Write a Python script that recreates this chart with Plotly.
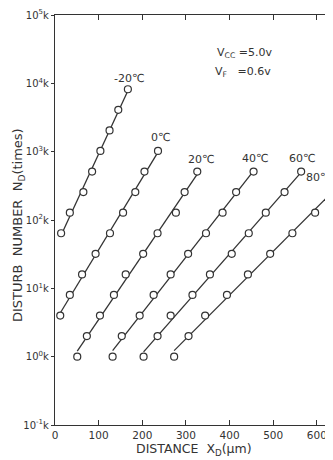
import numpy as np
import plotly.graph_objects as go

# ---- data ----
temps = ["-20℃", "0℃", "20℃", "40℃", "60℃", "80℃"]

x_m20 = [14, 34, 65, 85, 104, 125, 145, 167]
y_m20 = [64, 128, 256, 512, 1024, 2048, 4096, 8192]

x_0 = [12, 34, 62, 93, 126, 156, 184, 205, 236]
y_0 = [4, 8, 16, 32, 64, 128, 256, 512, 1024]

x_20 = [51, 73, 103, 135, 162, 202, 235, 277, 297, 326]
y_20 = [1, 2, 4, 8, 16, 32, 64, 128, 256, 512]

x_40 = [132, 153, 194, 226, 265, 305, 346, 384, 415, 455]
y_40 = [1, 2, 4, 8, 16, 32, 64, 128, 256, 512]

x_60 = [203, 235, 265, 315, 355, 405, 444, 483, 526, 564]
y_60 = [1, 2, 4, 8, 16, 32, 64, 128, 256, 512]

x_80 = [273, 306, 344, 394, 442, 493, 544, 596, 634]
y_80 = [1, 2, 4, 8, 16, 32, 64, 128, 256]

x_ticks = [0, 100, 200, 300, 400, 500, 600]
y_ticks = [0.1, 1, 10, 100, 1000, 10000, 100000]
y_ticktext = ["10<sup>-1</sup>k", "10<sup>0</sup>k", "10<sup>1</sup>k", "10<sup>2</sup>k",
              "10<sup>3</sup>k", "10<sup>4</sup>k", "10<sup>5</sup>k"]

# label centres (data units)
label_x = [170, 241, 335, 459, 566, 604]
label_y = [11750, 1600, 770, 790, 790, 420]

series = [(x_m20, y_m20), (x_0, y_0), (x_20, y_20), (x_40, y_40), (x_60, y_60), (x_80, y_80)]

INK = "#333333"
FONT = "DejaVu Sans"

# page body has an 8px margin: plot area spans window x 55..333, y 15..425
W, H = 325, 452
ML, MT = 47, 7
PW, PH = 278, 410


def px_x(wx):
    return (wx - 55) / PW


def px_y(wy):
    return (425 - wy) / PH


fig = go.Figure()
for (xs, ys) in series:
    xs_a = np.array(xs, dtype=float)
    ly = np.log10(np.array(ys, dtype=float))
    k, b = np.polyfit(xs_a, ly, 1)
    xl = np.array([xs_a.min(), xs_a.max()])
    fig.add_trace(go.Scatter(x=xl, y=10 ** (k * xl + b), mode="lines",
                             line=dict(color=INK, width=1.3), showlegend=False,
                             hoverinfo="skip"))
    fig.add_trace(go.Scatter(x=xs, y=ys, mode="markers", showlegend=False,
                             marker=dict(symbol="circle", size=7, color="white",
                                         line=dict(color=INK, width=1.2))))

annotations = []
for t, lx, ly in zip(temps, label_x, label_y):
    annotations.append(dict(x=lx, y=np.log10(ly), xref="x", yref="y", text=t,
                            showarrow=False, font=dict(family=FONT, size=11, color=INK),
                            xanchor="center", yanchor="middle"))

annotations += [
    dict(x=px_x(215), y=px_y(53), xref="paper", yref="paper",
         text="V<sub>CC</sub> =5.0v", showarrow=False, xanchor="left", yanchor="middle",
         font=dict(family=FONT, size=11, color=INK)),
    dict(x=px_x(213), y=px_y(72), xref="paper", yref="paper",
         text="V<sub>F</sub>   =0.6v", showarrow=False, xanchor="left", yanchor="middle",
         font=dict(family=FONT, size=11, color=INK)),
    dict(x=px_x(194), y=px_y(449), xref="paper", yref="paper",
         text="DISTANCE  X<sub>D</sub>(μm)", showarrow=False, xanchor="center", yanchor="middle",
         font=dict(family=FONT, size=12.5, color=INK)),
    dict(x=px_x(18), y=px_y(225), xref="paper", yref="paper",
         text="DISTURB  NUMBER  N<sub>D</sub>(times)", showarrow=False, textangle=-90,
         xanchor="center", yanchor="middle",
         font=dict(family=FONT, size=13, color=INK)),
]

fig.update_layout(
    width=W, height=H,
    margin=dict(l=ML, r=W - ML - PW, t=MT, b=H - MT - PH, pad=0),
    paper_bgcolor="white", plot_bgcolor="white",
    annotations=annotations,
    xaxis=dict(range=[0, 637], tickvals=x_ticks, ticktext=[str(v) for v in x_ticks],
               ticks="inside", ticklen=5, tickcolor=INK, showline=True, linecolor=INK,
               linewidth=1.3, mirror="ticks", showgrid=False, zeroline=False,
               tickfont=dict(family=FONT, size=10.5, color=INK), automargin=False),
    yaxis=dict(type="log", range=[-1, 5], tickvals=y_ticks, ticktext=y_ticktext,
               ticks="outside", ticklen=3, tickcolor=INK, showline=True, linecolor=INK,
               linewidth=1.3, showgrid=False, zeroline=False,
               tickfont=dict(family=FONT, size=10, color=INK), automargin=False),
)

fig.write_html("out.html")
